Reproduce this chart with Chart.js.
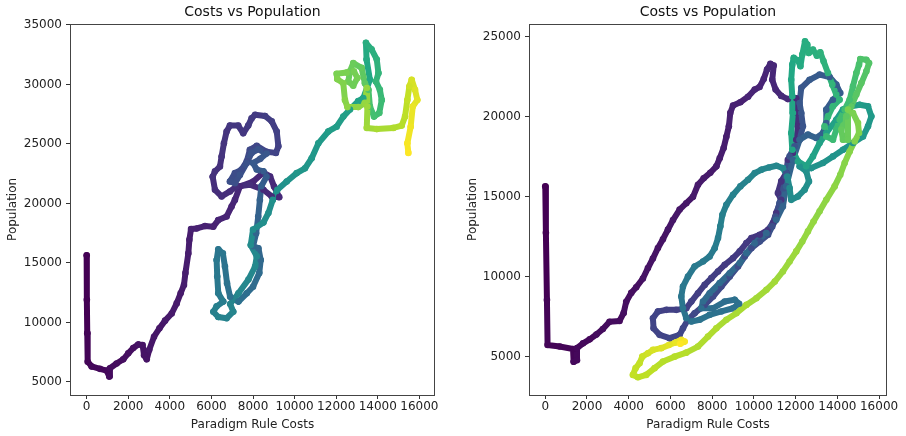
<!DOCTYPE html>
<html>
<head>
<meta charset="utf-8">
<script src="https://cdn.jsdelivr.net/npm/chart.js@4.4.1/dist/chart.umd.min.js"></script>
<style>
  html, body { margin: 0; padding: 0; background: #fff; }
  #wrap { position: relative; width: 906px; height: 436px; }
  canvas { position: absolute; top: 0; }
</style>
</head>
<body>
<div id="wrap">
  <canvas id="leftChart" width="453" height="436" style="left:0"></canvas>
  <canvas id="rightChart" width="453" height="436" style="left:453px"></canvas>
</div>
<script>
/* ── Data: [cost, population, time (0..1, colour)] ───────────────────── */
const leftPath = [
  [0,15650,0.00],[10,11900,0.00],[30,9100,0.01],[50,6700,0.01],[240,6300,0.02],[640,6100,0.02],
  [960,5950,0.02],[1090,5450,0.03],[1120,6150,0.03],[1440,6550,0.03],[1760,6900,0.04],[2000,7400,0.04],
  [2240,7850,0.04],[2480,8150,0.05],[2690,8100,0.05],[2760,7250,0.05],[2890,6900,0.05],[3010,7700,0.06],
  [3240,8800,0.06],[3500,9500,0.06],[3770,10150,0.07],[4090,10750,0.07],[4330,11600,0.07],[4520,12450,0.07],
  [4680,13150,0.08],[4750,14150,0.08],[4890,15800,0.08],[4940,16950,0.08],[5020,17850,0.09],[5290,17900,0.09],
  [5690,18100,0.09],[6090,18050,0.09],[6330,18600,0.10],[6730,18900,0.10],[6970,19750,0.10],[7130,20300,0.11],
  [7370,21430,0.11],[8010,21850,0.11],[8500,22600,0.12],[8820,22270,0.12],[9010,21430,0.12],[9260,20530,0.12],
  [8900,20590,0.12],[8500,21150,0.12],[7850,21570,0.13],[7210,21430,0.13],[6890,21010,0.13],
  [6490,20590,0.13],[6170,21150,0.13],[6060,22250,0.14],[6170,22700,0.14],[6410,23100,0.14],[6490,23950,0.15],
  [6600,25050,0.15],[6730,26050,0.15],[6890,26550,0.16],[7290,26550,0.16],[7530,25900,0.16],[7770,26550,0.17],
  [7930,27150,0.17],[8100,27450,0.17],[8580,27350,0.18],[8900,26900,0.18],[9140,26050,0.19],[9220,24800,0.19],
  [9100,24250,0.20],
  [8650,24350,0.21],[8180,24850,0.21],[7850,24500,0.22],[7700,23550,0.22],[7450,22850,0.23],[7130,22550,0.23],
  [6890,21850,0.24],[7130,21700,0.24],[7370,22400,0.25],[7700,23400,0.25],[7930,24250,0.26],[8250,24550,0.26],
  [8650,24200,0.27],[8350,23750,0.27],[8000,23400,0.28],[8180,22850,0.28],[8500,22700,0.29],[8650,22250,0.29],
  [8400,21450,0.30],
  [8330,20300,0.31],[8250,18900,0.31],[8150,17500,0.32],[8000,16400,0.33],[8260,16240,0.33],[8370,15250,0.34],
  [8300,14150,0.35],[8000,13000,0.35],[7700,12450,0.36],[7300,11750,0.37],[6900,12150,0.37],[6750,13300,0.38],
  [6650,14700,0.38],[6550,15800,0.39],[6330,16150,0.39],[6250,15250,0.40],[6280,13850,0.40],[6330,12450,0.41],
  [6570,11750,0.42],
  [6250,11350,0.43],[6090,10900,0.43],[6330,10450,0.44],[6730,10350,0.44],[7050,10900,0.45],[6900,11550,0.45],
  [7300,12450,0.46],[7780,13600,0.46],[8100,14700,0.47],[8180,15550,0.47],[7890,16500,0.48],[8000,17800,0.48],
  [8500,18400,0.49],[8740,19200,0.49],[8950,20300,0.50],[9170,21150,0.50],[9620,21850,0.51],[10100,22550,0.52],
  [10500,22950,0.52],[10820,23800,0.53],[11140,25050,0.54],[11620,26050,0.55],[12020,26450,0.55],[12340,27300,0.56],
  [12660,27900,0.57],[13060,28600,0.58],[13300,28850,0.59],
  [13620,30400,0.60],[13460,32100,0.61],[13430,33500,0.62],[13700,32950,0.63],[13950,32100,0.64],[14030,30950,0.65],
  [13910,30250,0.66],[14100,29550,0.67],[14190,28700,0.68],[14070,27600,0.69],[13820,27300,0.70],[13620,28150,0.71],
  [13550,29550,0.72],
  [13380,30100,0.75],[13220,31400,0.76],[12820,31800,0.77],[12660,31100,0.77],[12580,30250,0.78],[12820,29900,0.78],
  [13020,30550,0.79],[12850,31100,0.79],[12500,31000,0.80],[12020,30900,0.80],[12050,30450,0.81],[12340,30100,0.81],
  [12420,28700,0.82],[12540,28100,0.83],[13060,28100,0.83],[13380,28450,0.84],[13470,29700,0.84],[13500,28150,0.85],
  [13470,26350,0.86],[13950,26250,0.87],[14750,26350,0.88],[15150,26550,0.89],[15310,27300,0.90],[15420,28700,0.91],
  [15520,29850,0.93],[15630,30400,0.94],[15790,29550,0.95],[15900,28700,0.96],[15680,28150,0.97],[15580,26450,0.98],
  [15420,25050,0.99],[15470,24250,1.00]
];

const rightPath = [
  [0,15650,0.00],[30,12750,0.00],[80,8550,0.01],[110,5750,0.01],[690,5650,0.01],[1330,5500,0.01],
  [1360,4700,0.02],[1520,4800,0.02],[1520,5550,0.02],[1810,5850,0.02],[2130,6100,0.02],[2450,6400,0.03],
  [2760,6750,0.03],[3080,7200,0.03],[3560,7250,0.03],[3760,7750,0.04],[3880,8450,0.04],[4120,9000,0.04],
  [4360,9350,0.04],[4680,9900,0.05],[4920,10550,0.05],[5160,11150,0.05],[5400,11800,0.05],[5640,12350,0.05],
  [5880,12950,0.06],[6120,13550,0.06],[6440,14200,0.06],[6760,14600,0.06],[7080,15000,0.07],[7320,15750,0.07],
  [7590,16150,0.07],[7910,16500,0.07],[8200,16900,0.08],[8360,17400,0.08],[8550,18050,0.08],[8680,18750,0.08],
  [8800,19400,0.09],[8870,20250,0.09],[9000,20700,0.09],[9350,20900,0.09],[9720,21250,0.10],[10040,21700,0.10],
  [10270,21850,0.10],[10470,22350,0.10],[10630,22950,0.11],[10790,23300,0.11],[10950,23200,0.11],[10880,22300,0.11],
  [11040,21700,0.11],[11310,21300,0.12],[11630,21100,0.12],[12030,21150,0.12],
  [12070,20230,0.13],[12110,19400,0.13],[12030,18560,0.13],[11870,17730,0.14],[11630,17310,0.14],[11550,16480,0.14],
  [11310,15960,0.15],[11150,15230,0.15],[11310,14810,0.15],[11070,13980,0.15],[10910,13360,0.16],[10680,12940,0.16],
  [10280,12630,0.16],[9880,12420,0.16],[9640,12110,0.17],[9320,11590,0.17],[9000,11170,0.17],[8600,10750,0.17],
  [8280,10340,0.18],[7960,9920,0.18],[7640,9500,0.18],[7320,8980,0.18],[7000,8460,0.19],[6760,8040,0.19],
  [6280,7940,0.19],[5800,7940,0.19],[5400,7840,0.20],[5160,7420,0.20],[5190,6790,0.20],[5480,6380,0.20],
  [5960,6170,0.21],[6440,6380,0.21],[6600,6790,0.21],[6840,7320,0.21],
  [7160,7730,0.22],[7640,8250,0.22],[8040,8770,0.22],[8440,9400,0.22],[8840,10020,0.23],[9240,10650,0.23],
  [9560,11270,0.23],[9880,11790,0.23],[10280,12210,0.24],[10680,12630,0.24],[10880,13150,0.24],[11040,13770,0.24],
  [11230,14610,0.25],[11430,15540,0.25],[11550,16480,0.25],[11710,17520,0.25],[11950,18150,0.26],[12190,18560,0.26],
  [12350,19400,0.26],[12270,20230,0.27],[12190,20850,0.27],[12270,21800,0.27],[12670,22300,0.28],[13150,22630,0.28],
  [13630,22480,0.28],[13950,22000,0.29],[14140,21480,0.29],[13790,21060,0.29],[13470,20440,0.30],[13470,19600,0.30],
  [13310,18980,0.30],[12990,18670,0.31],[12590,18880,0.31],[12190,18560,0.31],
  [11870,17310,0.32],[11550,15650,0.32],[11390,14400,0.32],[11070,13560,0.33],[10600,12730,0.33],[10040,12110,0.33],
  [9640,11480,0.34],[9320,10860,0.34],[8840,10230,0.34],[8360,9610,0.35],[7880,8980,0.35],[7560,8460,0.35],
  [7480,8040,0.36],[8040,8040,0.36],[8600,8460,0.36],[9080,8570,0.37],[9290,8320,0.37],[9000,8040,0.37],
  [8440,7840,0.37],[7880,7630,0.38],[7400,7320,0.38],[7000,7210,0.38],[6760,7420,0.38],
  [6600,8040,0.39],[6520,8770,0.39],[6600,9400,0.40],[6840,10020,0.40],[7160,10650,0.41],[7560,10960,0.41],
  [7880,11270,0.41],[8120,11790,0.42],[8280,12420,0.42],[8390,13150,0.43],[8490,13880,0.43],[8680,14500,0.43],
  [9000,15130,0.44],[9350,15650,0.44],[9720,16060,0.45],[10040,16480,0.45],[10360,16690,0.46],[10720,16830,0.46],
  [11080,16940,0.46],[11390,16790,0.47],[11600,16270,0.47],[11710,15540,0.48],[11790,14810,0.48],[12110,15020,0.48],
  [12430,15440,0.49],[12640,15960,0.49],[12510,16590,0.50],[12190,16900,0.50],[12750,16790,0.51],[13310,17110,0.51],
  [13790,17520,0.51],[14270,17940,0.52],[14750,18360,0.52],[15230,18770,0.53],[15470,19400,0.53],[15630,20020,0.54],
  [15470,20650,0.54],[15070,20750,0.55],[14670,20650,0.55],[14270,20440,0.56],
  [13950,19810,0.57],[13470,18980,0.57],[13150,18360,0.57],[12830,17520,0.58],[12510,16900,0.58],[12110,17210,0.58],
  [11840,17940,0.59],[11790,18980,0.59],[11870,20230,0.59],[11840,21270,0.60],[11790,22310,0.60],[11840,23250,0.60],
  [11910,23670,0.61],[12110,23520,0.61],[12230,23150,0.61],[12320,23880,0.62],[12450,24710,0.62],[12560,24500,0.62],
  [12630,23980,0.63],[12830,24190,0.63],[13020,23810,0.63],[13180,24020,0.64],[13340,23460,0.64],[13550,22730,0.64],
  [13760,22000,0.65],[13950,21380,0.65],[14110,21060,0.65],
  [13790,20650,0.66],[13550,20020,0.66],[13390,19400,0.67],[13470,18770,0.67],[13790,18560,0.68],[13950,19190,0.68],
  [14110,19810,0.69],[14350,20440,0.69],[14590,21060,0.70],[14750,21900,0.70],[14910,22730,0.71],[15040,23250,0.71],
  [15100,23600,0.72],[15390,23560,0.72],[15520,23350,0.73],[15390,22830,0.73],[15150,22100,0.74],[14910,21380,0.74],
  [14670,20650,0.75],[14430,20020,0.75],[14190,19190,0.76],[14270,18560,0.76],[14510,18560,0.77],
  [14510,20440,0.80],[14750,20230,0.80],[14990,19600,0.81],[15040,18980,0.81],[14830,18460,0.81],[14590,17830,0.82],
  [14350,17110,0.82],[14140,16380,0.82],[13870,15650,0.83],[13470,14810,0.83],[13150,14090,0.83],[12860,13460,0.84],
  [12590,12840,0.84],[12320,12210,0.84],[12030,11590,0.85],[11710,10960,0.85],[11390,10340,0.85],[11000,9710,0.86],
  [10600,9190,0.86],[10120,8670,0.86],[9640,8250,0.87],[9160,7730,0.87],[8680,7320,0.87],[8200,6790,0.88],
  [7800,6270,0.88],[7320,5650,0.88],[6760,5270,0.89],[6200,5020,0.89],[5640,4710,0.89],[5240,4300,0.90],
  [4840,3880,0.90],[4440,3730,0.90],[4200,3880,0.91],[4330,4300,0.91],[4520,4610,0.91],
  [4650,5020,0.92],[4920,5230,0.93],[5160,5440,0.94],[5560,5550,0.95],[5930,5750,0.96],[6250,5900,0.97],
  [6520,6070,0.98],[6680,5960,0.99],[6470,5820,1.00]
];

const xTicks      = [0, 2000, 4000, 6000, 8000, 10000, 12000, 14000, 16000];
const leftYTicks  = [5000, 10000, 15000, 20000, 25000, 30000, 35000];
const rightYTicks = [5000, 10000, 15000, 20000, 25000];

const TITLE  = 'Costs vs Population';
const XLABEL = 'Paradigm Rule Costs';
const YLABEL = 'Population';

/* ── viridis ───────────────────────────────────────────────────────────── */
const VIRIDIS = ['#440154','#482475','#414487','#355f8d','#2a788e','#21918c',
                 '#22a884','#44bf70','#7ad151','#bddf26','#fde725'];

function viridis(t) {
  const f = Math.min(Math.max(t, 0), 1) * 10;
  const i = Math.min(Math.floor(f), 9);
  const k = f - i;
  const a = VIRIDIS[i], b = VIRIDIS[i + 1];
  const ch = (s, o) => parseInt(s.substr(o, 2), 16);
  const mix = o => Math.round(ch(a, o) + (ch(b, o) - ch(a, o)) * k);
  return `rgb(${mix(1)},${mix(3)},${mix(5)})`;
}

/* ── Chart defaults ────────────────────────────────────────────────────── */
Chart.defaults.font.family = "'DejaVu Sans', sans-serif";
Chart.defaults.color       = '#222';

const framePlugin = {
  id: 'frame',
  afterDatasetsDraw(chart) {
    const { ctx, chartArea: a } = chart;
    ctx.save();
    ctx.strokeStyle = '#444';
    ctx.lineWidth = 1;
    ctx.strokeRect(Math.round(a.left) + 0.5, Math.round(a.top) + 0.5,
                   Math.round(a.right - a.left) - 1, Math.round(a.bottom - a.top));
    ctx.restore();
  },
};

function makePanel(id, path, opt) {
  const tick = {
    display: true, drawOnChartArea: false, drawTicks: true,
    tickLength: 4, color: '#333', lineWidth: 1,
  };
  return new Chart(document.getElementById(id), {
    type: 'scatter',
    data: {
      datasets: [{
        data: path.map(p => ({ x: p[0], y: p[1] })),
        showLine: true,
        tension: 0,
        borderWidth: 6,
        borderCapStyle: 'round',
        borderJoinStyle: 'round',
        pointRadius: 3.3,
        pointBorderWidth: 0,
        pointBackgroundColor: c => viridis(path[c.dataIndex][2]),
        segment: { borderColor: c => viridis(path[c.p0DataIndex][2]) },
      }],
    },
    options: {
      responsive: false,
      animation: false,
      events: [],
      layout: { padding: { left: 0, right: opt.padRight, top: 0, bottom: 0 } },
      plugins: {
        legend: { display: false },
        tooltip: { enabled: false },
        title: {
          display: true, text: TITLE, fullSize: false, color: '#111',
          font: { size: 14, weight: 'normal' }, padding: { top: 4, bottom: 3 },
        },
      },
      scales: {
        x: {
          type: 'linear', min: opt.xMin, max: opt.xMax,
          afterBuildTicks: s => { s.ticks = xTicks.map(v => ({ value: v })); },
          afterFit: s => { s.height = 41; },
          grid: tick,
          border: { display: false },
          ticks: { autoSkip: false, maxRotation: 0, padding: 1, font: { size: 12 },
                   callback: v => String(v) },
          title: { display: true, text: XLABEL, font: { size: 12 }, padding: { top: 0, bottom: 4 } },
        },
        y: {
          type: 'linear', min: opt.yMin, max: opt.yMax,
          afterBuildTicks: s => { s.ticks = opt.yTicks.map(v => ({ value: v })); },
          afterFit: s => { s.width = opt.yWidth; },
          grid: tick,
          border: { display: false },
          ticks: { autoSkip: false, padding: 4, font: { size: 12 },
                   callback: v => String(v) },
          title: { display: true, text: YLABEL, font: { size: 12 },
                   padding: { top: opt.yTitlePad, bottom: 0 } },
        },
      },
    },
    plugins: [framePlugin],
  });
}

makePanel('leftChart', leftPath, {
  xMin: -800, xMax: 16750, yMin: 3900, yMax: 35100,
  yTicks: leftYTicks, yWidth: 70, padRight: 18, yTitlePad: 5.5,
});

makePanel('rightChart', rightPath, {
  xMin: -780, xMax: 16380, yMin: 2625, yMax: 25800,
  yTicks: rightYTicks, yWidth: 76, padRight: 19, yTitlePad: 12.8,
});
</script>
</body>
</html>
